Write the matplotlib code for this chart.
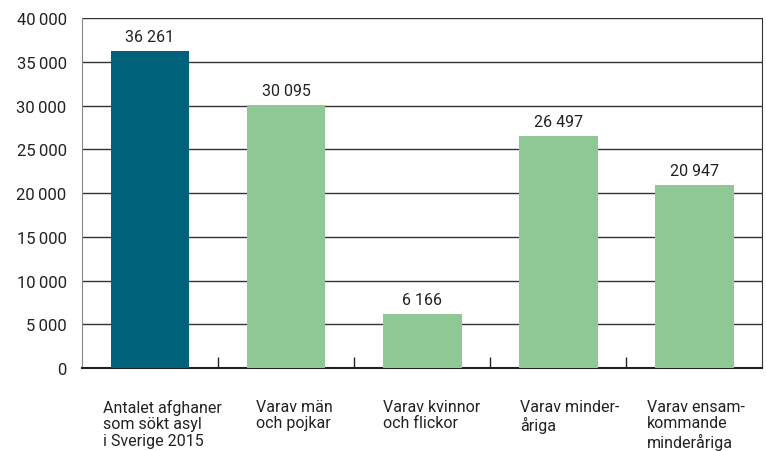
import matplotlib
matplotlib.use("Agg")
import matplotlib.pyplot as plt
from matplotlib.ticker import FuncFormatter

plt.rcParams['font.family'] = ['Roboto', 'DejaVu Sans']

categories = [
    "Antalet afghaner\nsom sökt asyl\ni Sverige 2015",
    "Varav män\noch pojkar",
    "Varav kvinnor\noch flickor",
    "Varav minder-\nåriga",
    "Varav ensam-\nkommande\nminderåriga",
]
values = [36261, 30095, 6166, 26497, 20947]
colors = ["#00627a", "#8fc795", "#8fc795", "#8fc795", "#8fc795"]

fig = plt.figure(figsize=(7.66, 4.52), dpi=100)
ax = fig.add_axes([0.107, 0.1836, 0.888, 0.774])

x = range(len(values))
ax.bar(x, values, width=0.58, color=colors, zorder=3)

ax.set_xlim(-0.5, len(values) - 0.5)
ax.set_ylim(0, 40000)
ax.set_yticks(range(0, 40001, 5000))
ax.yaxis.set_major_formatter(FuncFormatter(lambda v, p: f"{int(v):,}".replace(",", "\u2009")))
ax.grid(axis="y", color="#333333", linewidth=1.0, zorder=0)
ax.tick_params(axis="y", length=0, labelsize=12, pad=11, colors="#222222")

# category separators as small ticks on the bottom axis
ax.set_xticks([i + 0.5 for i in range(len(values) - 1)])
ax.set_xticklabels([])
ax.tick_params(axis="x", direction="in", length=8, width=1, color="#222222")

ax.spines["top"].set_visible(False)
ax.spines["left"].set_color("#888888")
ax.spines["right"].set_color("#333333")
ax.spines["bottom"].set_color("#222222")
ax.spines["bottom"].set_linewidth(1.5)

for i, v in enumerate(values):
    ax.text(i, v + 800, f"{v:,}".replace(",", " "), ha="center", va="bottom",
            fontsize=11.5, color="#222222")

offsets = [-0.346, -0.221, -0.287, -0.279, -0.346]
for i, lab in enumerate(categories):
    ax.text(i + offsets[i], -3500, lab, ha="left", va="top", fontsize=11.5,
            color="#222222", linespacing=1.15)

fig.savefig("out.png", dpi=100)
